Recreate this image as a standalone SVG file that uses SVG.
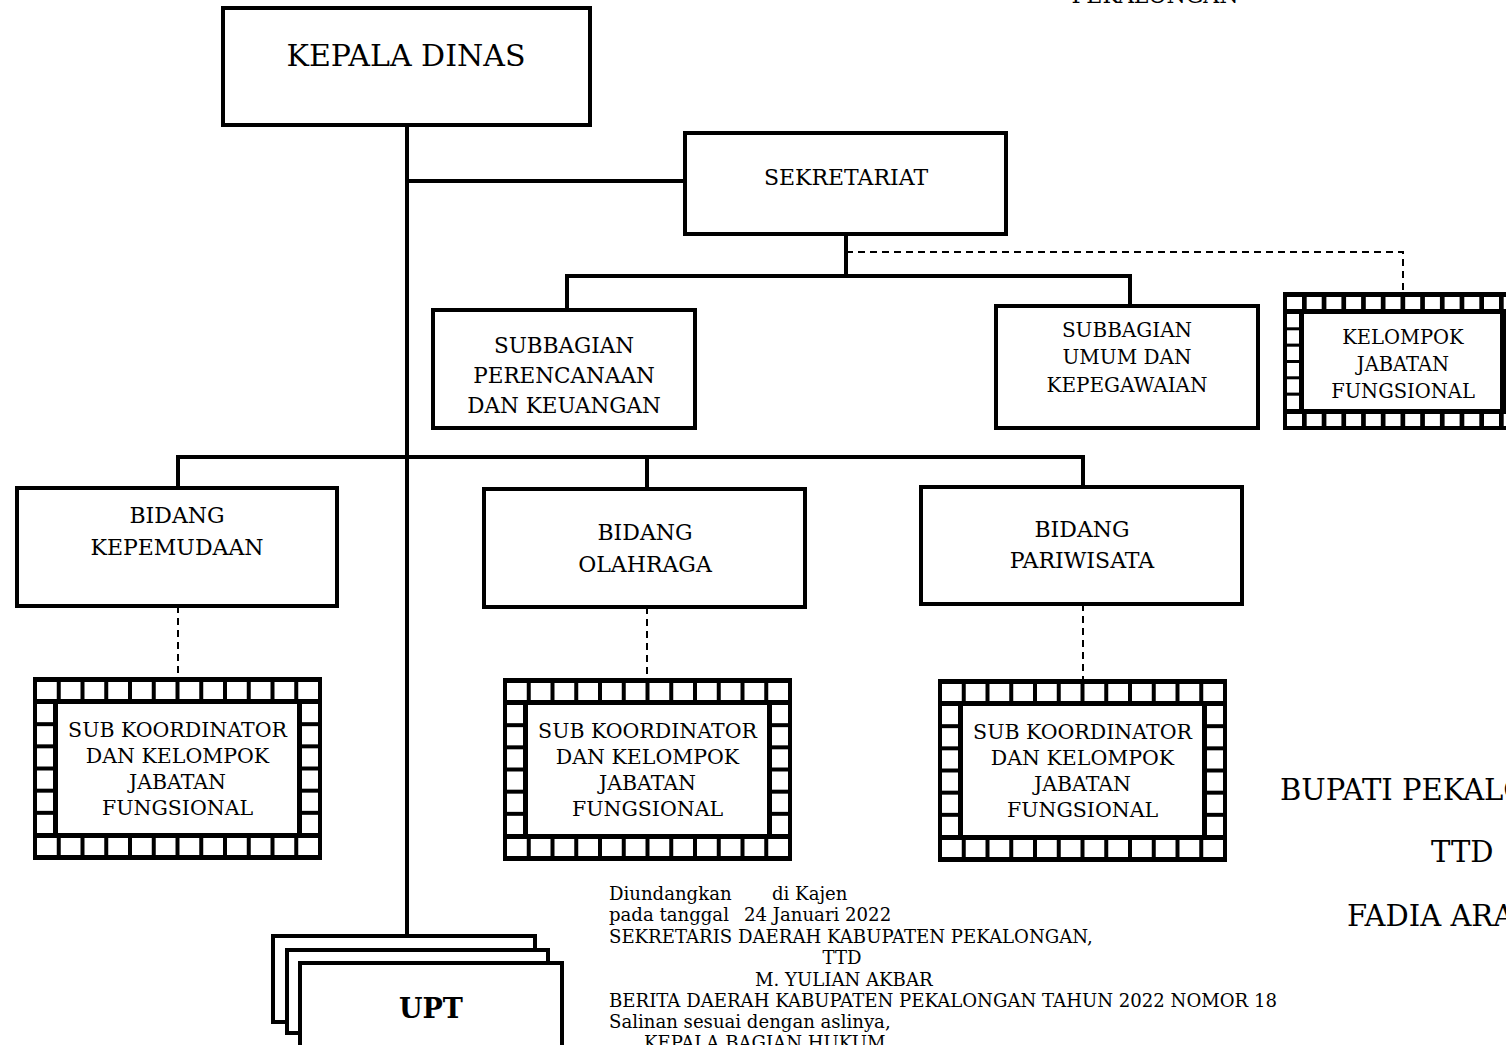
<svg xmlns="http://www.w3.org/2000/svg" width="1506" height="1045" viewBox="0 0 1506 1045">
<style>
.box{fill:#fff;stroke:#000;stroke-width:4}
.ln{fill:none;stroke:#000;stroke-width:4}
.dash{fill:none;stroke:#000;stroke-width:2;stroke-dasharray:7 5}
.t{font-family:"DejaVu Serif","Liberation Serif",serif;fill:#000;text-anchor:middle}
.s{font-family:"DejaVu Serif","Liberation Serif",serif;fill:#000;text-anchor:start;font-size:29px}
.b{font-family:"DejaVu Serif","Liberation Serif",serif;fill:#000;font-size:18.1px}
.w{fill:#fff}
</style>
<defs>
<g id="film">
<rect x="0" y="0" width="289" height="183" fill="#000"/>
<g class="w">
<rect x="4" y="5" width="19.75" height="17"/><rect x="27.75" y="5" width="19.75" height="17"/><rect x="51.5" y="5" width="19.75" height="17"/><rect x="75.25" y="5" width="19.75" height="17"/><rect x="99" y="5" width="19.75" height="17"/><rect x="122.75" y="5" width="19.75" height="17"/><rect x="146.5" y="5" width="19.75" height="17"/><rect x="170.25" y="5" width="19.75" height="17"/><rect x="194" y="5" width="19.75" height="17"/><rect x="217.75" y="5" width="19.75" height="17"/><rect x="241.5" y="5" width="19.75" height="17"/><rect x="265.25" y="5" width="19.75" height="17"/>
<rect x="4" y="161" width="19.75" height="17"/><rect x="27.75" y="161" width="19.75" height="17"/><rect x="51.5" y="161" width="19.75" height="17"/><rect x="75.25" y="161" width="19.75" height="17"/><rect x="99" y="161" width="19.75" height="17"/><rect x="122.75" y="161" width="19.75" height="17"/><rect x="146.5" y="161" width="19.75" height="17"/><rect x="170.25" y="161" width="19.75" height="17"/><rect x="194" y="161" width="19.75" height="17"/><rect x="217.75" y="161" width="19.75" height="17"/><rect x="241.5" y="161" width="19.75" height="17"/><rect x="265.25" y="161" width="19.75" height="17"/>
<rect x="4" y="27" width="16" height="18.17"/><rect x="4" y="49.17" width="16" height="18.17"/><rect x="4" y="71.33" width="16" height="18.17"/><rect x="4" y="93.5" width="16" height="18.17"/><rect x="4" y="115.67" width="16" height="18.17"/><rect x="4" y="137.83" width="16" height="18.17"/>
<rect x="269" y="27" width="16" height="18.17"/><rect x="269" y="49.17" width="16" height="18.17"/><rect x="269" y="71.33" width="16" height="18.17"/><rect x="269" y="93.5" width="16" height="18.17"/><rect x="269" y="115.67" width="16" height="18.17"/><rect x="269" y="137.83" width="16" height="18.17"/>
<rect x="25" y="27" width="239" height="129"/>
</g>
</g>
</defs>

<g id="connectors">
<path class="ln" d="M407,125 V936"/>
<path class="ln" d="M407,181 H685"/>
<path class="ln" d="M846,234 V276"/>
<path class="ln" d="M567,310 V276 H1130 V306"/>
<path class="ln" d="M178,488 V457 H1083 V487"/>
<path class="ln" d="M647,457 V489"/>
<path class="dash" d="M846,252 H1403 V292"/>
<path class="dash" d="M178,606 V677"/>
<path class="dash" d="M647,607 V678"/>
<path class="dash" d="M1083,604 V679"/>
</g>

<text class="t" x="1155" y="3" font-size="22">PEKALONGAN</text>

<g id="kepala-dinas">
<rect class="box" x="223" y="8" width="367" height="117"/>
<text class="t" x="406" y="66" font-size="30">KEPALA DINAS</text>
</g>

<g id="sekretariat">
<rect class="box" x="685" y="133" width="321" height="101"/>
<text class="t" x="846" y="185" font-size="22">SEKRETARIAT</text>
</g>

<g id="subbagian-perencanaan">
<rect class="box" x="433" y="310" width="262" height="118"/>
<text class="t" x="564" font-size="21.5"><tspan x="564" y="353">SUBBAGIAN</tspan><tspan x="564" y="383">PERENCANAAN</tspan><tspan x="564" y="413">DAN KEUANGAN</tspan></text>
</g>

<g id="subbagian-umum">
<rect class="box" x="996" y="306" width="262" height="122"/>
<text class="t" x="1127" font-size="20"><tspan x="1127" y="337">SUBBAGIAN</tspan><tspan x="1127" y="364">UMUM DAN</tspan><tspan x="1127" y="392">KEPEGAWAIAN</tspan></text>
</g>

<g id="kelompok-jabatan-fungsional">
<rect x="1283" y="292" width="245" height="138" fill="#000"/>
<g class="w">
<rect x="1287" y="297" width="15" height="12"/><rect x="1306.7" y="297" width="15" height="12"/><rect x="1326.4" y="297" width="15" height="12"/><rect x="1346.1" y="297" width="15" height="12"/><rect x="1365.8" y="297" width="15" height="12"/><rect x="1385.5" y="297" width="15" height="12"/><rect x="1405.2" y="297" width="15" height="12"/><rect x="1424.9" y="297" width="15" height="12"/><rect x="1444.6" y="297" width="15" height="12"/><rect x="1464.3" y="297" width="15" height="12"/><rect x="1484" y="297" width="15" height="12"/><rect x="1503.7" y="297" width="15" height="12"/>
<rect x="1287" y="414" width="15" height="12"/><rect x="1306.7" y="414" width="15" height="12"/><rect x="1326.4" y="414" width="15" height="12"/><rect x="1346.1" y="414" width="15" height="12"/><rect x="1365.8" y="414" width="15" height="12"/><rect x="1385.5" y="414" width="15" height="12"/><rect x="1405.2" y="414" width="15" height="12"/><rect x="1424.9" y="414" width="15" height="12"/><rect x="1444.6" y="414" width="15" height="12"/><rect x="1464.3" y="414" width="15" height="12"/><rect x="1484" y="414" width="15" height="12"/><rect x="1503.7" y="414" width="15" height="12"/>
<rect x="1287" y="314" width="12" height="13.3"/><rect x="1287" y="330.3" width="12" height="13.3"/><rect x="1287" y="346.7" width="12" height="13.3"/><rect x="1287" y="363" width="12" height="13.3"/><rect x="1287" y="379.3" width="12" height="13.3"/><rect x="1287" y="395.7" width="12" height="13.3"/>
<rect x="1304" y="314" width="196" height="95"/>
</g>
<text class="t" x="1403" font-size="19.5"><tspan x="1403" y="344">KELOMPOK</tspan><tspan x="1403" y="371">JABATAN</tspan><tspan x="1403" y="398">FUNGSIONAL</tspan></text>
</g>

<g id="bidang-kepemudaan">
<rect class="box" x="17" y="488" width="320" height="118"/>
<text class="t" x="177" font-size="22"><tspan x="177" y="523">BIDANG</tspan><tspan x="177" y="555">KEPEMUDAAN</tspan></text>
</g>

<g id="bidang-olahraga">
<rect class="box" x="484" y="489" width="321" height="118"/>
<text class="t" x="645" font-size="22"><tspan x="645" y="540">BIDANG</tspan><tspan x="645" y="572">OLAHRAGA</tspan></text>
</g>

<g id="bidang-pariwisata">
<rect class="box" x="921" y="487" width="321" height="117"/>
<text class="t" x="1082" font-size="22"><tspan x="1082" y="537">BIDANG</tspan><tspan x="1082" y="568">PARIWISATA</tspan></text>
</g>

<g id="sub-koordinator-1">
<use href="#film" x="33" y="677"/>
<text class="t" x="177.5" font-size="20.5"><tspan x="177.5" y="737">SUB KOORDINATOR</tspan><tspan x="177.5" y="763">DAN KELOMPOK</tspan><tspan x="177.5" y="789">JABATAN</tspan><tspan x="177.5" y="815">FUNGSIONAL</tspan></text>
</g>

<g id="sub-koordinator-2">
<use href="#film" x="503" y="678"/>
<text class="t" x="647.5" font-size="20.5"><tspan x="647.5" y="738">SUB KOORDINATOR</tspan><tspan x="647.5" y="764">DAN KELOMPOK</tspan><tspan x="647.5" y="790">JABATAN</tspan><tspan x="647.5" y="816">FUNGSIONAL</tspan></text>
</g>

<g id="sub-koordinator-3">
<use href="#film" x="938" y="679"/>
<text class="t" x="1082.5" font-size="20.5"><tspan x="1082.5" y="739">SUB KOORDINATOR</tspan><tspan x="1082.5" y="765">DAN KELOMPOK</tspan><tspan x="1082.5" y="791">JABATAN</tspan><tspan x="1082.5" y="817">FUNGSIONAL</tspan></text>
</g>

<g id="upt">
<rect class="box" x="273" y="936" width="262" height="86"/>
<rect class="box" x="287" y="950" width="261" height="83"/>
<rect class="box" x="300" y="963" width="262" height="100"/>
<text class="t" x="431" y="1018" font-size="27" font-weight="bold">UPT</text>
</g>

<g id="pengundangan">
<text class="b" x="609" y="900">Diundangkan</text>
<text class="b" x="772" y="900">di Kajen</text>
<text class="b" x="609" y="921">pada tanggal</text>
<text class="b" x="744" y="921">24 Januari 2022</text>
<text class="b" x="609" y="943">SEKRETARIS DAERAH KABUPATEN PEKALONGAN,</text>
<text class="b" x="842" y="964" text-anchor="middle">TTD</text>
<text class="b" x="755" y="986">M. YULIAN AKBAR</text>
<text class="b" x="609" y="1007">BERITA DAERAH KABUPATEN PEKALONGAN TAHUN 2022 NOMOR 18</text>
<text class="b" x="609" y="1028">Salinan sesuai dengan aslinya,</text>
<text class="b" x="644" y="1049">KEPALA BAGIAN HUKUM</text>
</g>

<g id="pengesahan">
<text class="s" x="1280" y="800">BUPATI PEKALONGAN,</text>
<text class="s" x="1431" y="862">TTD</text>
<text class="s" x="1347" y="926">FADIA ARAFIQ</text>
</g>
</svg>
